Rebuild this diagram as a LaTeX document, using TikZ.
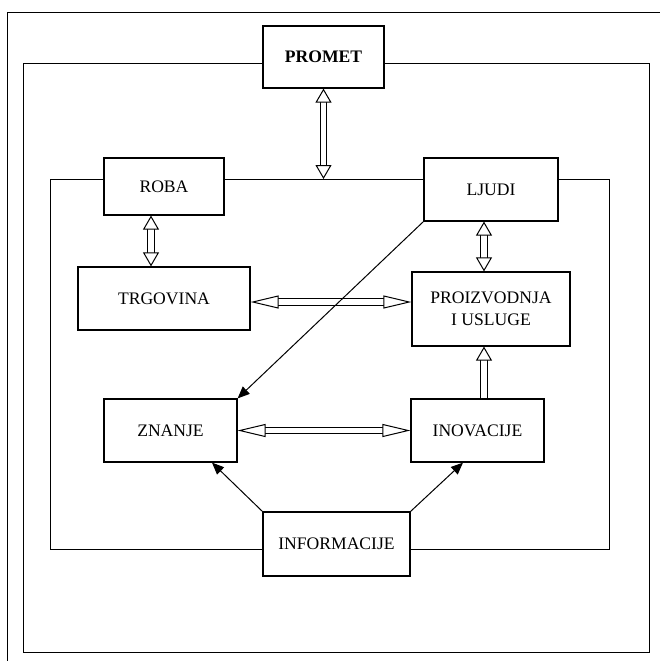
\documentclass[tikz,border=0pt]{standalone}
\usepackage{fontspec}
\setmainfont{Liberation Serif}
\usetikzlibrary{arrows.meta}
\begin{document}
\begin{tikzpicture}[x=0.5pt,y=-0.5pt,line width=0.5pt,
    box/.style={draw,fill=white,line width=0.6pt,inner sep=0pt,align=center,font=\fontsize{8.8}{11}\selectfont},
    dbl/.style={double,double distance=2.6pt},
    vtip/.tip={Triangle[fill=white,line width=0.5pt,length=7pt,width=8pt]},
    htip/.tip={Triangle[fill=white,line width=0.5pt,length=14pt,width=6.5pt]},
    thin/.tip={Triangle[length=6pt,width=5pt]}]
  \useasboundingbox (0,0) rectangle (660,661);
  % frames
  \draw (8,661) -- (8,12) -- (660,12);
  \draw (24,63) rectangle (650,652);
  \draw (51,179) rectangle (610,549);
  \coordinate (ftop) at (323.5,179);
  % boxes
  \node[box,minimum width=60.5pt,minimum height=31pt,font=\fontsize{8.8}{11}\selectfont\bfseries] (promet) at (323.5,57) {PROMET};
  \node[box,minimum width=60pt,minimum height=28.5pt] (roba) at (164,186.5) {ROBA};
  \node[box,minimum width=67pt,minimum height=31.5pt] (ljudi) at (491,189.5) {LJUDI};
  \node[box,minimum width=86pt,minimum height=31.5pt] (trgovina) at (164,298.5) {TRGOVINA};
  \node[box,minimum width=79pt,minimum height=37pt] (proizv) at (491,309) {PROIZVODNJA\\ I USLUGE};
  \node[box,minimum width=66.5pt,minimum height=31.5pt] (znanje) at (170.5,430.5) {ZNANJE};
  \node[box,minimum width=66.5pt,minimum height=31.5pt] (inovacije) at (477.5,430.5) {INOVACIJE};
  \node[box,minimum width=73.5pt,minimum height=32pt] (informacije) at (336.5,544) {INFORMACIJE};
  % veze
  \draw[dbl,vtip-vtip] (promet) -- (ftop);
  \draw[dbl,vtip-vtip] (151,0 |- roba.south) -- (151,0 |- trgovina.north);
  \draw[dbl,vtip-vtip] (484,0 |- ljudi.south) -- (484,0 |- proizv.north);
  \draw[dbl,htip-htip] (trgovina.east |- 0,302) -- (proizv.west |- 0,302);
  \draw[dbl,htip-htip] (znanje) -- (inovacije);
  \draw[dbl,-vtip] (484,0 |- inovacije.north) -- (484,0 |- proizv.south);
  \draw[-thin] (ljudi.south west) -- (znanje.north east);
  \draw[-thin] (informacije.north west) -- (212,0 |- znanje.south);
  \draw[-thin] (informacije.north east) -- (463,0 |- znanje.south);
\end{tikzpicture}
\end{document}
